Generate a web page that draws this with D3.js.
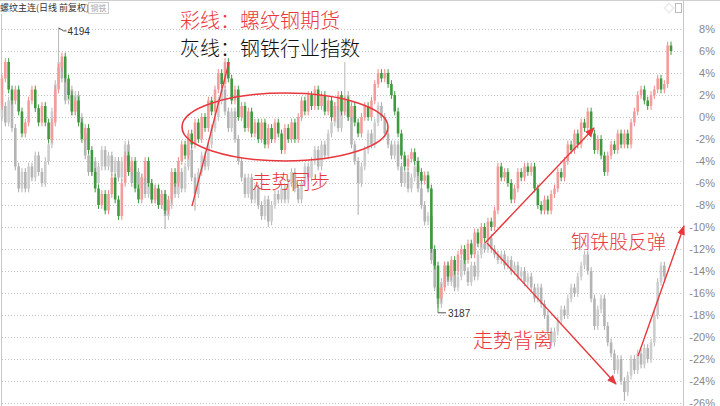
<!DOCTYPE html>
<html><head><meta charset="utf-8">
<script src="https://cdn.jsdelivr.net/npm/d3@7"></script>
<style>
html,body{margin:0;padding:0;background:#fff;}
svg{display:block;font-family:"Noto Sans CJK SC","Noto Sans",sans-serif;}
</style></head>
<body>
<svg id="c" width="720" height="406"></svg>
<script>
// ---- data (percent change vs. base) ----
const futOpen0 = 1.0;
const futClose = [3.5,5.0,2.5,1.5,2.5,0.5,-1.5,-0.5,1.5,2.5,
0.8,-0.5,1.0,-0.5,-2.0,-0.5,2.5,4.5,5.5,3.5,
2.0,0.5,1.5,-0.5,-2.0,-1.0,-3.0,-5.0,-6.5,-8.0,
-7.0,-8.5,-7.0,-5.5,-7.5,-9.0,-6.0,-3.5,-5.0,-4.0,
-6.5,-7.5,-5.5,-4.0,-6.0,-7.5,-6.5,-8.0,-7.0,-8.5,
-7.5,-5.0,-6.0,-4.0,-2.5,-3.5,-1.5,-2.5,-0.5,-2.0,
0.0,-1.0,1.5,0.5,2.5,4.0,3.0,5.0,3.5,1.5,
2.5,0.0,1.0,-1.0,0.5,-1.5,-0.5,-2.0,-0.5,-2.5,
-1.0,-2.0,-0.5,-1.5,-3.0,-1.0,-2.0,-0.5,-2.0,0.0,
1.5,0.5,2.0,1.0,2.5,1.0,2.0,0.5,1.5,0.0,
1.0,2.0,0.5,1.5,0.0,1.0,-0.5,-1.5,0.0,1.0,
0.0,1.5,3.0,4.0,3.5,4.0,3.0,2.0,0.5,-1.5,
-3.5,-4.5,-3.8,-3.2,-4.0,-5.0,-5.8,-5.3,-6.5,-12.0,
-13.5,-16.5,-15.5,-13.5,-14.5,-13.0,-14.0,-12.5,-12.0,-13.0,
-11.5,-12.5,-10.5,-11.5,-10.0,-11.0,-9.5,-10.0,-8.5,-4.5,
-5.5,-5.0,-6.0,-7.5,-6.5,-5.0,-5.5,-4.5,-5.0,-4.5,
-6.5,-8.0,-8.5,-7.5,-8.5,-7.0,-6.5,-5.0,-5.5,-4.0,
-2.5,-3.0,-1.5,-2.5,-0.5,-1.0,0.5,-1.5,-3.0,-2.0,
-3.5,-5.0,-3.5,-2.5,-3.0,-1.5,-2.5,-1.5,-2.5,-0.5,
0.5,2.0,2.5,1.5,1.0,2.0,2.5,3.5,2.5,3.0,
6.5,6.0];
const futExtremes = [{i:131, low:-17.8}];

const idxOpen0 = 0.0;
const idxClose = [1.0,-0.5,1.5,-1.0,-4.5,-6.5,-5.0,-6.5,-4.5,-5.5,
-3.5,-5.0,-6.0,-4.0,-2.5,0.5,3.0,5.0,3.5,1.5,
2.5,0.5,2.0,0.0,-1.5,-3.5,-5.0,-4.0,-6.0,-4.5,
-3.0,-4.5,-3.5,-5.0,-4.0,-5.5,-4.0,-2.5,-4.5,-6.0,
-5.0,-6.5,-5.5,-7.0,-6.0,-7.5,-6.5,-8.0,-7.0,-9.0,
-8.0,-6.0,-7.0,-5.0,-6.5,-4.5,-3.0,-5.5,-7.0,-5.0,
-3.5,-4.5,-2.5,-1.0,0.0,1.5,2.5,0.5,-1.0,0.5,
-2.0,-4.0,-5.5,-7.0,-5.5,-7.5,-6.5,-8.0,-9.0,-7.5,
-9.5,-8.0,-7.0,-7.5,-6.5,-7.5,-6.0,-5.0,-6.5,-7.5,
-6.0,-4.5,-5.5,-4.0,-3.0,-4.5,-2.5,-3.5,-1.5,-0.5,
1.0,-1.0,0.5,2.0,0.0,-2.5,-4.0,-6.0,-4.5,-3.0,
-1.5,-2.5,-0.5,1.0,0.0,-1.5,-2.5,-3.5,-2.5,-4.5,
-6.0,-5.0,-6.5,-5.5,-4.5,-6.5,-8.0,-9.5,-9.0,-13.0,
-15.5,-17.0,-15.0,-13.5,-15.0,-14.0,-15.5,-14.5,-13.0,-14.0,
-15.0,-13.5,-14.5,-12.5,-11.5,-12.0,-11.0,-12.0,-12.5,-13.0,
-12.5,-13.5,-13.0,-14.0,-13.5,-14.5,-14.0,-15.0,-14.5,-15.5,
-16.5,-15.5,-17.0,-18.0,-19.5,-20.5,-19.5,-18.5,-17.5,-18.0,
-16.5,-15.5,-16.0,-14.5,-13.5,-12.5,-14.0,-16.5,-19.0,-17.5,
-16.5,-19.0,-20.5,-21.5,-23.0,-22.0,-24.0,-25.0,-23.5,-22.0,
-23.0,-21.5,-22.5,-21.0,-22.0,-20.5,-18.0,-15.0,-13.5,-14.5];
const idxExtremes = [{i:17, high:8.1},{i:49, low:-10.2},{i:58, low:-8.5},{i:80, low:-10.0},
  {i:103, high:5.0},{i:107, low:-8.9},{i:187, low:-25.8}];

const tickValues = [8,6,4,2,0,-2,-4,-6,-8,-10,-12,-14,-16,-18,-20,-22,-24,-26];
const maxLabel = "4194", minLabel = "3187";

// ---- layout ----
const svg = d3.select("#c");
const plotRight = 683;
const x = d3.scaleLinear().domain([0, 201]).range([2, 671]);
const y = d3.scaleLinear().domain([0, 8]).range([117, 29]);

// frame
svg.append("line").attr("x1",0).attr("x2",720).attr("y1",0.5).attr("y2",0.5).attr("stroke","#d0d0d0");
svg.append("line").attr("x1",plotRight+0.5).attr("x2",plotRight+0.5).attr("y1",0).attr("y2",406).attr("stroke","#c8c8c8");
svg.append("line").attr("x1",1.5).attr("x2",1.5).attr("y1",14).attr("y2",406).attr("stroke","#c8c8c8");

// grid
svg.append("g").selectAll("line").data(tickValues).join("line")
  .attr("x1",2).attr("x2",plotRight).attr("y1",d=>Math.round(y(d))+0.5).attr("y2",d=>Math.round(y(d))+0.5)
  .attr("stroke","#c4c4c4").attr("stroke-dasharray","1,2");

// axis
const ax = svg.append("g").attr("transform",`translate(${plotRight},0)`)
  .call(d3.axisRight(y).tickValues(tickValues).tickSize(0).tickFormat(d=>d+"%"));
ax.select(".domain").remove();
ax.selectAll("text").attr("text-anchor","end").attr("x",32).attr("fill","#888")
  .style("font-size","11px").style("font-family","Arial, 'Liberation Sans', sans-serif");

// candles
function build(closes, open0, extremes){
  const pad = 0.35;
  const rows = closes.map((c,i)=>{
    const o = i===0 ? open0 : closes[i-1];
    return {i, o, c, h: Math.max(o,c)+pad, l: Math.min(o,c)-pad};
  });
  extremes.forEach(e=>{ if(e.high!==undefined) rows[e.i].h=e.high; if(e.low!==undefined) rows[e.i].l=e.low; });
  return rows;
}
function draw(rows, colorFn){
  const g = svg.append("g");
  const bw = 2.6;
  g.selectAll("line").data(rows).join("line")
    .attr("x1",d=>x(d.i)).attr("x2",d=>x(d.i)).attr("y1",d=>y(d.h)).attr("y2",d=>y(d.l))
    .attr("stroke",d=>colorFn(d).stroke).attr("stroke-width",1);
  g.selectAll("rect").data(rows).join("rect")
    .attr("x",d=>x(d.i)-bw/2).attr("width",bw)
    .attr("y",d=>y(Math.max(d.o,d.c))).attr("height",d=>Math.max(1, Math.abs(y(d.o)-y(d.c))))
    .attr("fill",d=>colorFn(d).fill);
}
const idxRows = build(idxClose, idxOpen0, idxExtremes);
const futRows = build(futClose, futOpen0, futExtremes);
draw(idxRows, d=> d.c>=d.o ? {fill:"#cdcdcd",stroke:"#b8b8b8"} : {fill:"#b4b4b4",stroke:"#a8a8a8"});
draw(futRows, d=> d.c>=d.o ? {fill:"#f49c9c",stroke:"#f08888"} : {fill:"#3f9a3f",stroke:"#3f9a3f"});

// max / min labels
const hi = idxRows[17], lo = futRows[131];
svg.append("path").attr("d",`M${x(hi.i)},${y(hi.h)} L${x(hi.i)+5},${y(hi.h)+3} L${x(hi.i)+8},${y(hi.h)+3}`)
  .attr("fill","none").attr("stroke","#555");
svg.append("text").attr("x",x(hi.i)+9).attr("y",y(hi.h)+7).text(maxLabel)
  .attr("fill","#333").style("font-size","10px").style("font-family","Arial, 'Liberation Sans', sans-serif");
svg.append("line").attr("x1",x(lo.i)).attr("x2",x(lo.i)+8).attr("y1",y(lo.l)).attr("y2",y(lo.l)).attr("stroke","#555");
svg.append("text").attr("x",x(lo.i)+10).attr("y",y(lo.l)+4).text(minLabel)
  .attr("fill","#333").style("font-size","10px").style("font-family","Arial, 'Liberation Sans', sans-serif");

// title
svg.append("text").attr("x",0).attr("y",11).text("螺纹主连(日线 前复权)").attr("fill","#333").style("font-size","9px");
svg.append("rect").attr("x",88.5).attr("y",2.5).attr("width",20).attr("height",11).attr("fill","none").attr("stroke","#ccc");
svg.append("text").attr("x",90.5).attr("y",11).text("钢铁").attr("fill","#aaa").style("font-size","8px");
svg.append("text").attr("x",664).attr("y",12).text("◇").attr("fill","#bbb").style("font-size","10px");
svg.append("rect").attr("x",675.5).attr("y",3.5).attr("width",6).attr("height",9).attr("fill","none").attr("stroke","#bbb");

// annotations
const red = "#e8383d";
const ann = svg.append("g").style("font-weight","300");
ann.append("text").attr("x",180).attr("y",28).text("彩线：螺纹钢期货").attr("fill",red).style("font-size","20px");
ann.append("text").attr("x",180).attr("y",56).text("灰线：钢铁行业指数").attr("fill","#111").style("font-size","20px");
ann.append("text").attr("x",252).attr("y",189).text("走势同步").attr("fill",red).style("font-size","19.5px");
ann.append("text").attr("x",473).attr("y",348).text("走势背离").attr("fill",red).style("font-size","20px");
ann.append("text").attr("x",571).attr("y",249).text("钢铁股反弹").attr("fill",red).style("font-size","19px");

svg.append("ellipse").attr("cx",285).attr("cy",127).attr("rx",103).attr("ry",34)
  .attr("fill","none").attr("stroke",red).attr("stroke-width",1.6);
svg.append("line").attr("x1",192).attr("y1",206).attr("x2",229).attr("y2",62).attr("stroke",red).attr("stroke-width",1.3);

const defs = svg.append("defs");
defs.append("marker").attr("id","ah").attr("viewBox","0 0 10 10").attr("refX",9).attr("refY",5)
  .attr("markerWidth",7).attr("markerHeight",7).attr("orient","auto")
  .append("path").attr("d","M0,1 L10,5 L0,9 z").attr("fill",red);
const arrows = [[485,243,594,128],[487,243,616,384],[638,356,684,226]];
svg.append("g").selectAll("line").data(arrows).join("line")
  .attr("x1",d=>d[0]).attr("y1",d=>d[1]).attr("x2",d=>d[2]).attr("y2",d=>d[3])
  .attr("stroke",red).attr("stroke-width",1.4).attr("marker-end","url(#ah)");
</script>
</body></html>
